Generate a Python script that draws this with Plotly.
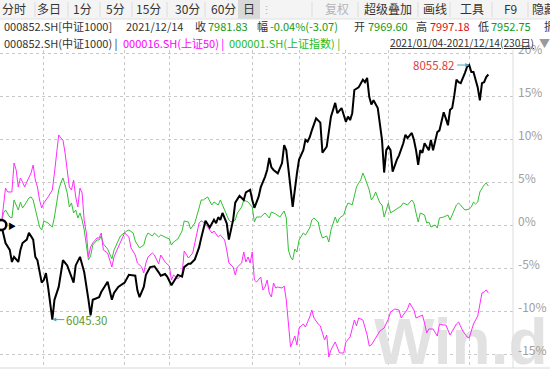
import plotly.graph_objects as go

# ---------------- data (percent change since 2021/01/04, by trading-day index) ----------------
csi1000_day = [0, 2, 4, 5, 6, 8, 9, 10, 12, 13, 15, 16, 17, 19, 20, 21, 22, 24, 25, 27, 29, 31, 34, 35, 37, 39,
               41, 42, 43, 46, 47, 49, 50, 52, 53, 55, 58, 60, 63, 64, 65, 67, 68, 70, 72, 74, 75, 77, 78, 80,
               81, 83, 85, 86, 88, 89, 91, 93, 94, 95, 96, 98, 100, 101, 102, 103, 104, 106, 107, 109, 110, 112,
               114, 115, 117, 118, 119, 121, 122, 124, 125, 126, 127, 128, 130, 132, 133, 134, 135, 136, 137, 139,
               140, 142, 143, 144, 145, 146, 148, 150, 151, 153, 154, 155, 157, 158, 160, 162, 163, 164, 165, 166,
               168, 169, 170, 171, 172, 173, 174, 175, 177, 179, 180, 181, 182, 183, 184, 186, 187, 189, 190, 191,
               193, 194, 195, 196, 197, 198, 199, 201, 202, 203, 204, 205, 206, 207, 208, 209, 210, 211, 212, 213,
               214, 215, 216, 218, 219, 220, 221, 222, 224, 225, 226, 227, 228, 229]
csi1000_pct = [0.0, -2.1, -2.9, -4.3, -3.7, -4.3, -2.9, -2.1, -1.7, -0.9, -1.7, -3.7, -4.1, -6.7, -6.4, -5.6, -7.2,
               -11.0, -8.7, -7.2, -4.1, -4.7, -6.7, -4.7, -3.7, -5.5, -8.7, -10.5, -8.7, -8.4, -7.8, -7.0, -6.6,
               -8.7, -7.9, -7.2, -6.7, -5.8, -5.9, -7.6, -8.4, -7.2, -5.8, -4.9, -4.8, -5.5, -5.9, -5.7, -6.0, -7.0,
               -6.6, -5.8, -6.0, -4.9, -4.5, -4.5, -4.0, -2.6, -1.5, -0.6, 0.5, -0.3, 0.6, 0.2, 0.9, 0.6, 1.4, 0.2,
               -1.7, 0.6, 2.6, 3.4, 2.9, 3.8, 4.1, 2.9, 2.0, 3.3, 4.4, 5.6, 6.4, 7.8, 6.7, 6.4, 6.0, 7.2, 9.3, 8.7,
               6.4, 3.7, 2.1, 6.0, 7.6, 8.7, 9.9, 9.7, 10.2, 11.0, 12.4, 11.9, 8.4, 9.1, 11.0, 12.6, 14.2, 13.0,
               13.6, 12.0, 12.6, 12.2, 13.0, 15.7, 16.0, 16.5, 16.9, 16.6, 17.1, 14.9, 14.0, 14.5, 13.6, 9.9, 6.1,
               8.7, 9.1, 8.7, 6.2, 7.6, 8.1, 9.5, 10.5, 10.1, 10.7, 9.9, 8.7, 7.0, 8.7, 8.4, 9.5, 8.7, 9.9, 8.7, 9.9,
               10.8, 11.0, 12.0, 13.1, 12.4, 11.6, 13.4, 13.6, 15.1, 16.9, 16.6, 16.5, 17.7, 18.4, 18.6, 17.8, 17.8,
               16.0, 14.5, 16.5, 16.6, 17.2, 17.5]

sse50_day = [0, 1, 2, 3, 5, 6, 7, 8, 9, 10, 11, 12, 13, 14, 15, 16, 17, 18, 19, 20, 22, 24, 25, 26, 27, 28, 29, 30,
             31, 32, 33, 34, 35, 36, 37, 38, 39, 40, 41, 42, 43, 45, 46, 47, 48, 50, 52, 53, 55, 56, 58, 60, 61, 63,
             64, 66, 67, 68, 69, 71, 72, 74, 75, 77, 79, 80, 81, 83, 85, 86, 87, 88, 90, 92, 93, 94, 95, 97, 99,
             100, 102, 103, 105, 106, 107, 109, 110, 111, 113, 114, 115, 116, 117, 118, 119, 120, 121, 122, 123,
             124, 125, 126, 127, 128, 129, 130, 132, 133, 134, 135, 136, 138, 139, 140, 142, 143, 145, 146, 147,
             149, 150, 152, 153, 154, 155, 157, 158, 159, 161, 162, 164, 166, 167, 168, 170, 172, 173, 174, 176,
             178, 180, 182, 183, 185, 187, 188, 189, 191, 192, 194, 195, 197, 198, 199, 200, 201, 203, 205, 206,
             208, 209, 211, 213, 214, 215, 217, 219, 220, 221, 222, 224, 225, 226, 227, 228, 229]
sse50_pct = [0.0, 2.33, 4.30, 3.84, 3.84, 7.21, 6.40, 4.42, 5.47, 5.00, 4.42, 5.00, 5.47, 6.05, 6.98, 5.23, 4.42,
             2.91, 1.98, 2.56, 3.26, 4.07, 6.05, 8.37, 10.47, 10.12, 9.88, 8.37, 6.40, 4.42, 4.07, 5.23, 3.26,
             2.09, 4.30, 3.72, 0.47, -0.93, -3.72, -2.56, -2.09, -1.51, -1.51, -0.93, -2.91, -3.26, -4.88, -3.72,
             -2.56, -1.98, -0.93, -1.40, -2.67, -3.49, -4.42, -4.88, -5.58, -4.42, -3.72, -3.26, -3.49, -4.53,
             -3.49, -4.30, -4.77, -6.40, -5.81, -6.28, -5.70, -3.02, -3.37, -3.84, -3.26, -0.93, 0.23, 0.47, 0.35,
             -0.23, -0.93, -0.70, -1.40, -1.16, -1.74, -2.91, -4.42, -4.88, -5.81, -4.88, -4.42, -3.14, -4.30,
             -3.72, -4.42, -3.14, -6.40, -6.63, -6.40, -6.05, -7.56, -7.21, -6.40, -7.91, -8.37, -6.74, -7.33,
             -7.21, -7.33, -7.09, -8.72, -11.05, -14.19, -12.91, -13.95, -11.98, -11.51, -11.86, -10.70, -9.88,
             -10.81, -11.51, -11.74, -13.37, -12.79, -15.35, -14.53, -13.60, -14.30, -14.88, -14.88, -13.60,
             -13.02, -11.05, -11.74, -10.81, -11.05, -12.79, -14.07, -13.95, -13.14, -12.33, -11.98, -10.93,
             -10.12, -9.77, -9.88, -10.81, -10.47, -9.77, -9.07, -9.88, -10.81, -10.58, -10.47, -11.40, -12.56,
             -12.09, -12.09, -12.91, -11.51, -11.63, -11.63, -12.79, -11.86, -11.51, -11.28, -12.33, -13.02,
             -13.14, -12.33, -11.51, -10.58, -9.30, -7.91, -7.79, -7.56, -7.91]

sse_day = [0, 1, 2, 4, 5, 6, 7, 8, 9, 10, 11, 12, 13, 14, 15, 16, 17, 18, 19, 20, 22, 24, 25, 26, 27, 28, 29, 30,
           31, 32, 33, 34, 35, 36, 37, 38, 39, 40, 41, 42, 43, 45, 46, 47, 48, 50, 52, 53, 55, 56, 59, 60, 62, 63,
           65, 67, 68, 69, 71, 72, 74, 75, 77, 79, 80, 81, 83, 85, 86, 88, 89, 91, 93, 94, 95, 97, 99, 100, 102,
           103, 105, 107, 108, 110, 111, 113, 114, 116, 118, 119, 120, 122, 124, 126, 127, 129, 131, 133, 134,
           135, 136, 137, 138, 139, 140, 142, 143, 145, 146, 147, 149, 150, 151, 153, 154, 155, 157, 158, 159,
           161, 162, 163, 165, 166, 167, 168, 169, 170, 171, 173, 174, 175, 176, 178, 179, 180, 181, 182, 183,
           185, 187, 188, 189, 191, 193, 194, 195, 196, 197, 199, 200, 201, 202, 204, 205, 206, 208, 210, 211,
           213, 214, 215, 217, 218, 220, 221, 222, 223, 224, 225, 227, 228, 229]
sse_pct = [0.0, 1.40, 1.74, 0.93, 0.81, 2.91, 2.33, 1.74, 2.67, 1.98, 2.33, 2.67, 3.14, 3.26, 2.91, 1.86, 0.93,
           -0.23, -0.58, 0.47, 0.23, -0.23, 0.93, 2.56, 4.07, 4.88, 5.47, 4.65, 3.72, 2.09, 2.56, 1.40, 1.74, 0.81,
           1.40, 0.58, -0.58, -2.33, -4.07, -3.60, -2.33, -1.74, -1.74, -1.28, -2.21, -2.79, -3.95, -2.91, -1.86,
           -1.28, -0.70, -0.58, -0.93, -1.86, -2.67, -2.33, -1.40, -0.93, -1.28, -0.93, -1.40, -1.16, -1.40,
           -1.63, -2.33, -1.98, -1.63, -0.70, 0.47, 0.35, -0.47, 0.23, 1.98, 2.91, 2.91, 3.26, 2.33, 2.67, 2.33,
           2.91, 1.74, 0.58, 0.35, 0.58, 1.40, 2.09, 2.91, 2.67, 2.09, 0.35, 0.93, 0.93, 1.40, 0.81, 1.51, 1.28,
           0.93, 1.63, 0.81, -2.91, -3.72, -4.07, -2.79, -3.14, -1.74, -0.93, -1.16, -0.35, 0.58, 0.81, 0.35,
           -0.81, -1.51, -1.28, -1.98, -0.58, 0.93, 0.23, 0.81, 1.16, 1.98, 2.56, 2.33, 3.26, 4.42, 4.88, 5.23,
           6.05, 5.47, 4.07, 2.91, 3.26, 3.84, 2.56, 2.33, 0.93, 1.74, 2.56, 1.40, 1.74, 1.98, 2.21, 2.56, 2.33,
           2.91, 2.56, 1.40, 0.35, 1.40, 1.16, 0.23, 0.35, -0.23, 0.00, -0.35, 0.81, 0.93, 1.16, 0.58, 1.74, 2.33,
           2.56, 1.98, 1.74, 1.86, 2.09, 2.67, 2.44, 2.67, 3.84, 4.65, 4.88, 4.53]

y_ticks = [20, 15, 10, 5, 0, -5, -10, -15]
y_tick_text = ["20%", "15%", "10%", "5%", "0%", "-5%", "-10%", "-15%"]
grid_days = [20, 58, 79, 118, 140, 162, 182, 220]   # month-start trading days with grid lines

toolbar_left = ["分时", "多日", "1分", "5分", "15分", "30分", "60分", "日"]
toolbar_right = ["复权", "超级叠加", "画线", "工具", "F9", "隐藏"]

# ---------------- layout helpers ----------------
W, H = 550, 370
ML, MR, MT, MB = 0, 37, 50, 2
PW, PH = W - ML - MR, H - MT - MB


def fx(x):
    return (x - ML) / PW


def fy(y):
    return (H - MB - y) / PH


FONT = "Noto Sans CJK SC, Microsoft YaHei, sans-serif"
BLACK = "#000000"
PINK = "#ff2bff"
GREEN = "#33c033"

fig = go.Figure()

# watermark (under the lines)
fig.add_trace(go.Scatter(x=[216], y=[-14.3], mode="text", text=["<b>Win.d</b>"],
                         textfont=dict(family="Liberation Sans, Arial", size=64, color="#e2e2e2"),
                         cliponaxis=False, hoverinfo="skip", showlegend=False))

fig.add_trace(go.Scatter(x=sse_day, y=sse_pct, mode="lines", line=dict(color=GREEN, width=1),
                         showlegend=False))
fig.add_trace(go.Scatter(x=sse50_day, y=sse50_pct, mode="lines", line=dict(color=PINK, width=1),
                         showlegend=False))
fig.add_trace(go.Scatter(x=csi1000_day, y=csi1000_pct, mode="lines", line=dict(color=BLACK, width=2),
                         showlegend=False))
# start reference marker
fig.add_trace(go.Scatter(x=csi1000_day[:1], y=csi1000_pct[:1], mode="markers",
                         marker=dict(symbol="circle", size=10, color="white",
                                     line=dict(color=BLACK, width=2.5)),
                         showlegend=False))

ann = []
ann.append(dict(x=csi1000_day[0], y=csi1000_pct[0], xref="x", yref="y", text="▶", showarrow=False,
                xshift=11, font=dict(size=8, color=BLACK)))

# max / min labels
imax = csi1000_pct.index(max(csi1000_pct))
imin = csi1000_pct.index(min(csi1000_pct))
ann.append(dict(x=csi1000_day[imax], y=csi1000_pct[imax], xref="x", yref="y", text="8055.82",
                showarrow=True, ax=-12, ay=0, xanchor="right", arrowhead=2, arrowsize=0.8, arrowwidth=1,
                arrowcolor="#4aa6c8", font=dict(family=FONT, size=11.5, color="#e23a3a")))
ann.append(dict(x=csi1000_day[imin], y=csi1000_pct[imin], xref="x", yref="y", text="6045.30",
                showarrow=True, ax=12, ay=0, xanchor="left", arrowhead=2, arrowsize=0.8, arrowwidth=1,
                arrowcolor="#4aa6c8", font=dict(family=FONT, size=11.5, color="#5a9a30")))

shapes = []
# toolbar background
shapes.append(dict(type="rect", xref="paper", yref="paper", x0=fx(0), x1=fx(W), y0=fy(19), y1=fy(0),
                   fillcolor="#f4f4f4", line=dict(width=0), layer="below"))
shapes.append(dict(type="rect", xref="paper", yref="paper", x0=fx(238), x1=fx(260), y0=fy(19), y1=fy(0),
                   fillcolor="#d8d8d8", line=dict(width=0), layer="below"))
shapes.append(dict(type="line", xref="paper", yref="paper", x0=fx(0), x1=fx(W), y0=fy(19), y1=fy(19),
                   line=dict(color="#e0e0e0", width=1)))
for sx in [35, 68, 100, 132, 167, 205, 312, 358, 418, 450, 492, 528]:
    shapes.append(dict(type="line", xref="paper", yref="paper", x0=fx(sx), x1=fx(sx), y0=fy(17), y1=fy(2),
                       line=dict(color="#dcdcdc", width=1)))
# right border and bottom line
shapes.append(dict(type="line", xref="paper", yref="paper", x0=1, x1=1, y0=0, y1=fy(50),
                   line=dict(color="#dddddd", width=1)))
shapes.append(dict(type="line", xref="paper", yref="paper", x0=fx(0), x1=fx(W), y0=0, y1=0,
                   line=dict(color="#d8d8d8", width=1)))

# toolbar texts
left_cx = [14, 49, 82, 115, 148, 187, 223, 249]
for t, cx in zip(toolbar_left, left_cx):
    ann.append(dict(x=fx(cx), y=fy(9), xref="paper", yref="paper", text=t, showarrow=False,
                    xanchor="center", yanchor="middle", font=dict(family=FONT, size=12, color="#333333")))
ann.append(dict(x=fx(266), y=fy(9), xref="paper", yref="paper", text="⋮", showarrow=False,
                xanchor="center", yanchor="middle", font=dict(family=FONT, size=11, color="#b0b0b0")))
right_cx = [337, 388, 435, 472, 510, 544]
for i, (t, cx) in enumerate(zip(toolbar_right, right_cx)):
    ann.append(dict(x=fx(cx), y=fy(9), xref="paper", yref="paper", text=t, showarrow=False,
                    xanchor="center", yanchor="middle",
                    font=dict(family=FONT, size=12, color="#b4b4b4" if i == 0 else "#333333")))

# info row
info = [("000852.SH[中证1000]", 2, "#333333"), ("2021/12/14", 124, "#333333"), ("收", 193, "#333333"),
        ("7981.83", 206, "#129a12"), ("幅", 255, "#333333"), ("-0.04%(-3.07)", 268, "#129a12"),
        ("开", 352, "#333333"), ("7969.60", 366, "#129a12"), ("高", 414, "#333333"),
        ("7997.18", 428, "#e01010"), ("低", 476, "#333333"), ("7952.75", 489, "#129a12"),
        ("振", 542, "#333333")]
for t, x0, c in info:
    ann.append(dict(x=fx(x0), y=fy(26), xref="paper", yref="paper", text=t, showarrow=False,
                    xanchor="left", yanchor="middle", font=dict(family=FONT, size=11, color=c)))

# legend row
legend = [("000852.SH(中证1000) |", 2, "#333333", 11), ("000016.SH(上证50) |", 121, "#ff00ff", 11),
          ("000001.SH(上证指数) |", 227, "#22bb22", 11),
          ("<u>2021/01/04-2021/12/14(230日)</u>", 388, "#333333", 10.2),
          ("▼", 537, "#9a9a9a", 11)]
for t, x0, c, s in legend:
    ann.append(dict(x=fx(x0), y=fy(43), xref="paper", yref="paper", text=t, showarrow=False,
                    xanchor="left", yanchor="middle", font=dict(family=FONT, size=s, color=c)))

px_per_day = 2.127
fig.update_layout(
    width=W, height=H, margin=dict(l=ML, r=MR, t=MT, b=MB, pad=0, autoexpand=False),
    paper_bgcolor="white", plot_bgcolor="white",
    font=dict(family=FONT),
    xaxis=dict(range=[-0.6, -0.6 + PW / px_per_day], showticklabels=False, ticks="",
               tickvals=grid_days, showgrid=True, gridcolor="#c8c8c8", griddash="dot", gridwidth=1,
               zeroline=False, showline=False, fixedrange=True),
    yaxis=dict(range=[-(H - MB - 225) / 8.6, (225 - MT) / 8.6], side="right",
               tickvals=y_ticks, ticktext=y_tick_text, ticks="", showgrid=True, gridcolor="#c8c8c8",
               griddash="dot", gridwidth=1, zeroline=False, showline=False,
               ticklabelshift=-3, ticklabelstandoff=4,
               tickfont=dict(family=FONT, size=12, color="#a0a0a0"), fixedrange=True),
    shapes=shapes, annotations=ann, showlegend=False,
)

fig.write_html("out.html", config={"displayModeBar": False},
               post_script="document.body.style.margin='0';document.body.style.padding='0';"
                           "document.body.style.overflow='hidden';")
